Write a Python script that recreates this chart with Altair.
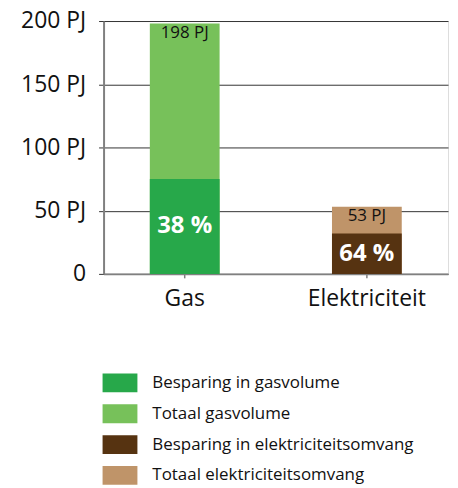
import altair as alt
import pandas as pd

categories = ["Gas", "Elektriciteit"]
totals = [198, 53]
savings = [75, 32]
total_labels = ["198 PJ", "53 PJ"]
pct_labels = ["38 %", "64 %"]
series_total = ["Totaal gasvolume", "Totaal elektriciteitsomvang"]
series_saving = ["Besparing in gasvolume", "Besparing in elektriciteitsomvang"]
legend_order = ["Besparing in gasvolume", "Totaal gasvolume",
                "Besparing in elektriciteitsomvang", "Totaal elektriciteitsomvang"]
legend_colors = ["#27A84A", "#77C15A", "#563311", "#BF9469"]
y_ticks = [0, 50, 100, 150, 200]

rows = []
for c, t, s, st, ss in zip(categories, totals, savings, series_total, series_saving):
    rows.append({"cat": c, "value": t, "series": st, "ord": 0})
    rows.append({"cat": c, "value": s, "series": ss, "ord": 1})
bars_df = pd.DataFrame(rows)

lab_df = pd.DataFrame({
    "cat": categories,
    "total": totals,
    "mid": [s / 2 for s in savings],
    "tlab": total_labels,
    "plab": pct_labels,
})

FONT = "Open Sans"

x_enc = alt.X("cat:N", sort=categories, title=None,
              scale=alt.Scale(paddingInner=0.617, paddingOuter=0.254),
              axis=alt.Axis(labelAngle=0, labelFontSize=23, labelFont=FONT,
                            labelColor="#111111", labelPadding=10,
                            domainColor="#808080", domainWidth=2,
                            tickColor="#808080", tickSize=4, tickWidth=1.5))

y_scale = alt.Scale(domain=[0, 200], nice=False)

bars = alt.Chart(bars_df).mark_bar().encode(
    x=x_enc,
    y=alt.Y("value:Q", stack=None, scale=y_scale, title=None,
            axis=alt.Axis(values=y_ticks, labelExpr="datum.value == 0 ? '0' : datum.value + ' PJ'",
                          labelFontSize=23, labelFont=FONT, labelColor="#111111",
                          labelPadding=13, grid=True, gridColor="#333333", gridWidth=1,
                          domainColor="#808080", domainWidth=2,
                          tickColor="#333333", tickSize=5, tickWidth=1)),
    color=alt.Color("series:N", scale=alt.Scale(domain=legend_order, range=legend_colors),
                    title=None,
                    legend=alt.Legend(orient="none", legendX=-1, legendY=346,
                                      symbolType="M-1,-0.54L1,-0.54L1,0.54L-1,0.54Z",
                                      symbolSize=1225, symbolStrokeWidth=0,
                                      labelFontSize=17, labelFont=FONT, labelColor="#111111",
                                      labelLimit=0, labelOffset=15, rowPadding=4, padding=0)),
    order=alt.Order("ord:Q"),
)

tot_text = alt.Chart(lab_df).mark_text(baseline="middle", dy=9.5, fontSize=17, font=FONT,
                                       color="#111111").encode(
    x=alt.X("cat:N", sort=categories),
    y=alt.Y("total:Q", scale=y_scale),
    text="tlab:N",
)

pct_text = alt.Chart(lab_df).mark_text(baseline="middle", fontSize=24, font=FONT,
                                       fontWeight="bold", color="white").encode(
    x=alt.X("cat:N", sort=categories),
    y=alt.Y("mid:Q", scale=y_scale),
    text="plab:N",
)

chart = alt.layer(bars, tot_text, pct_text).properties(
    width=346, height=254,
    autosize=alt.AutoSizeParams(type="none"),
    padding={"left": 96, "top": 12, "right": 2, "bottom": 212},
).configure_view(stroke=None).configure(background="white")

chart.save("out.html", embed_options={"renderer": "svg", "actions": False})
